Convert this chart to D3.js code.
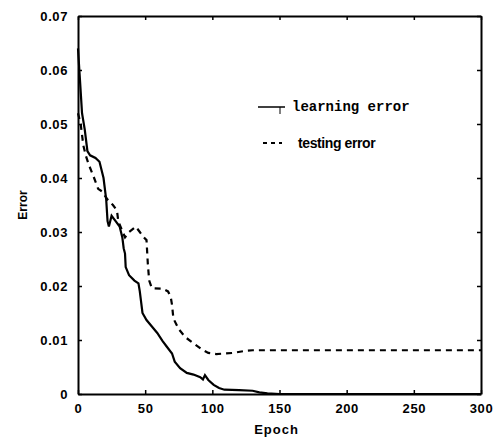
<!DOCTYPE html>
<html>
<head>
<meta charset="utf-8">
<script src="https://cdn.jsdelivr.net/npm/d3@7"></script>
<style>
  body { margin: 0; background: #fff; }
  .tick text { font-family: "Liberation Sans", Arial, sans-serif; font-weight: bold; font-size: 13px; letter-spacing: 0.6px; }
</style>
</head>
<body>
<div id="chart"></div>
<script>
// epochs / error values
var learnEpoch = [0, 1, 2, 3, 5, 7, 9, 13, 16, 19, 21, 22, 23, 25, 28, 31, 33, 34, 35, 35.5, 38, 42, 45, 46, 47, 48, 51, 55, 59, 63, 66, 70, 72, 76, 81, 86, 91, 93, 94.5, 97, 101, 105, 109, 120, 130, 135, 141, 150, 300]
var learnErr = [0.064, 0.060, 0.056, 0.052, 0.049, 0.045, 0.0442, 0.0437, 0.043, 0.040, 0.036, 0.032, 0.031, 0.033, 0.032, 0.031, 0.029, 0.027, 0.026, 0.0235, 0.022, 0.021, 0.0205, 0.019, 0.017, 0.015, 0.0137, 0.0125, 0.0113, 0.0098, 0.0088, 0.0075, 0.006, 0.0048, 0.0039, 0.0036, 0.0031, 0.0027, 0.0035, 0.0026, 0.0017, 0.0011, 0.0008, 0.0007, 0.0006, 0.0003, 0.0001, 0, 0]

var testEpoch = [0, 2, 4, 6, 8, 12, 15, 18, 22, 26, 29, 30, 35, 38, 43, 46, 49, 51, 52, 53, 55, 63, 67, 69, 70, 71, 75, 80, 86, 92, 97, 103, 115, 125, 130, 300]
var testErr = [0.052, 0.050, 0.046, 0.044, 0.0425, 0.040, 0.038, 0.0375, 0.036, 0.035, 0.034, 0.032, 0.029, 0.030, 0.031, 0.030, 0.029, 0.0285, 0.024, 0.021, 0.0196, 0.0195, 0.019, 0.018, 0.0165, 0.014, 0.012, 0.0105, 0.0094, 0.0083, 0.0076, 0.0074, 0.0076, 0.0080, 0.0081, 0.0081]

var xTicks = [0, 50, 100, 150, 200, 250, 300]
var yTicks = [0, 0.01, 0.02, 0.03, 0.04, 0.05, 0.06, 0.07]
var seriesNames = ["learning error", "testing error"]

var W = 497, H = 442
var margin = {top: 16, right: 16, bottom: 48, left: 78}
var width = W - margin.left - margin.right,
  height = H - margin.top - margin.bottom

var svg = d3.select("#chart").append("svg")
  .attr("width", W)
  .attr("height", H)
var g = svg.append("g")
  .attr("transform", "translate(" + margin.left + "," + margin.top + ")")

var x = d3.scaleLinear().domain([0, 300]).range([0, width])
var y = d3.scaleLinear().domain([0, 0.07]).range([height, 0])

// axes, ticks pointing inward
var fmtY = function(d) { return d === 0 ? "0" : d3.format(".2f")(d) }
var xAx = g.append("g").attr("transform", "translate(0," + height + ")")
  .call(d3.axisBottom(x).tickValues(xTicks).tickSizeInner(-4).tickSizeOuter(0).tickPadding(10))
var yAx = g.append("g")
  .call(d3.axisLeft(y).tickValues(yTicks).tickFormat(fmtY).tickSizeInner(-4).tickSizeOuter(0).tickPadding(10))
var topAx = g.append("g")
  .call(d3.axisTop(x).tickValues(xTicks).tickSizeInner(-4).tickSizeOuter(0).tickFormat(""))
var rightAx = g.append("g").attr("transform", "translate(" + width + ",0)")
  .call(d3.axisRight(y).tickValues(yTicks).tickSizeInner(-4).tickSizeOuter(0).tickFormat(""))

;[xAx, yAx, topAx, rightAx].forEach(function(a) {
  a.select(".domain").attr("stroke", "#000").attr("stroke-width", 2)
  a.selectAll(".tick line").attr("stroke", "#000").attr("stroke-width", 1.5)
  a.selectAll(".tick text").attr("fill", "#000")
})

// axis titles
g.append("text")
  .attr("x", width / 2 - 3).attr("y", height + 40)
  .attr("text-anchor", "middle").attr("fill", "#000")
  .style("font-family", "Liberation Sans, Arial, sans-serif")
  .style("font-weight", "bold").style("font-size", "13px")
  .style("letter-spacing", "1px")
  .text("Epoch")
g.append("text")
  .attr("transform", "translate(-51," + y(0.035) + ") rotate(-90)")
  .attr("text-anchor", "middle").attr("fill", "#000")
  .style("font-family", "Liberation Sans, Arial, sans-serif")
  .style("font-weight", "bold").style("font-size", "12px")
  .text("Error")

var line = d3.line()
  .x(function(d) { return x(d[0]) })
  .y(function(d) { return y(d[1]) })

var testData = d3.zip(testEpoch, testErr)
var learnData = d3.zip(learnEpoch, learnErr)

g.append("path")
  .datum(testData)
  .attr("fill", "none").attr("stroke", "#000")
  .attr("stroke-width", 2.2).attr("stroke-dasharray", "6,5")
  .attr("d", line)

g.append("path")
  .datum(learnData)
  .attr("fill", "none").attr("stroke", "#000")
  .attr("stroke-width", 2.2)
  .attr("d", line)

// legend
var lg = g.append("g").attr("transform", "translate(180,91)")
lg.append("line").attr("x1", 0).attr("x2", 27).attr("y1", 0).attr("y2", 0)
  .attr("stroke", "#000").attr("stroke-width", 1.5)
lg.append("line").attr("x1", 22).attr("x2", 22).attr("y1", 0).attr("y2", 7)
  .attr("stroke", "#000").attr("stroke-width", 1)
lg.append("text").attr("x", 34).attr("y", 4)
  .style("font-family", "Liberation Mono, Courier New, monospace")
  .style("font-weight", "bold").style("font-size", "14px")
  .text(seriesNames[0])
lg.append("line").attr("x1", 5).attr("x2", 24).attr("y1", 36).attr("y2", 36)
  .attr("stroke", "#000").attr("stroke-width", 2).attr("stroke-dasharray", "4,4")
lg.append("text").attr("x", 40).attr("y", 41)
  .style("font-family", "Liberation Sans, Arial, sans-serif")
  .style("font-weight", "bold").style("font-size", "14px")
  .style("letter-spacing", "-0.4px")
  .text(seriesNames[1])
</script>
</body>
</html>
